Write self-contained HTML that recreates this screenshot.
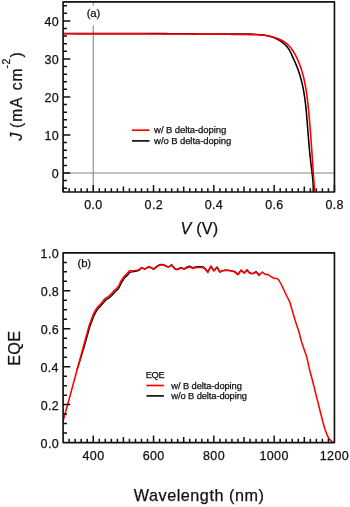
<!DOCTYPE html>
<html><head><meta charset="utf-8"><style>
html,body{margin:0;padding:0;background:#fff;width:350px;height:507px;overflow:hidden}
svg{display:block;will-change:transform}
text{font-family:"Liberation Sans", sans-serif;fill:#111;stroke:#111;stroke-width:0.25px}
</style></head><body>
<svg width="350" height="507" viewBox="0 0 350 507">
<line x1="63.1" y1="172.99" x2="334.45" y2="172.99" stroke="#868686" stroke-width="1.1"/>
<line x1="93.25" y1="1.9" x2="93.25" y2="192.0" stroke="#868686" stroke-width="1.1"/>
<path d="M63.96,33.5 L65.69,33.51 L67.42,33.52 L69.14,33.53 L70.87,33.54 L72.6,33.55 L74.32,33.56 L76.05,33.57 L77.77,33.57 L79.5,33.58 L81.22,33.58 L82.94,33.58 L84.66,33.59 L86.38,33.59 L88.1,33.59 L89.82,33.59 L91.54,33.59 L93.25,33.59 L94.97,33.58 L96.69,33.58 L98.4,33.58 L100.12,33.58 L101.83,33.57 L103.54,33.57 L105.26,33.56 L106.97,33.56 L108.68,33.55 L110.39,33.55 L112.11,33.55 L113.82,33.54 L115.53,33.54 L117.24,33.53 L118.95,33.53 L120.66,33.52 L122.37,33.52 L124.07,33.51 L125.78,33.51 L127.49,33.51 L129.2,33.51 L130.91,33.5 L132.62,33.5 L134.32,33.5 L136.03,33.5 L137.74,33.5 L139.45,33.5 L141.15,33.5 L142.86,33.51 L144.57,33.51 L146.28,33.51 L147.98,33.52 L149.69,33.53 L151.4,33.53 L153.1,33.54 L154.81,33.55 L156.52,33.56 L158.23,33.57 L159.94,33.59 L161.65,33.6 L163.35,33.61 L165.06,33.63 L166.77,33.64 L168.48,33.66 L170.19,33.67 L171.9,33.69 L173.61,33.7 L175.32,33.72 L177.03,33.74 L178.75,33.75 L180.46,33.77 L182.17,33.79 L183.88,33.8 L185.6,33.82 L187.31,33.83 L189.03,33.85 L190.74,33.87 L192.46,33.88 L194.17,33.89 L195.89,33.91 L197.61,33.92 L199.33,33.93 L201.05,33.95 L202.77,33.96 L204.49,33.97 L206.21,33.98 L207.93,33.98 L209.65,33.99 L211.38,34 L213.1,34 L214.83,34.01 L216.55,34.01 L218.28,34.01 L220.01,34.01 L221.74,34.01 L223.47,34 L225.2,34 L226.93,33.99 L228.67,33.98 L230.4,33.97 L232.14,33.96 L233.87,33.95 L235.61,33.93 L237.35,33.93 L239.08,33.92 L240.81,33.92 L242.54,33.93 L244.27,33.95 L246,33.97 L247.72,34.01 L249.44,34.06 L251.15,34.12 L252.86,34.19 L254.56,34.29 L256.26,34.4 L257.95,34.53 L259.63,34.68 L261.3,34.86 L262.97,35.06 L264.63,35.29 L266.27,35.57 L267.91,35.9 L269.54,36.29 L271.16,36.74 L272.77,37.26 L274.36,37.86 L275.94,38.55 L277.51,39.32 L279.04,40.17 L280.53,41.1 L281.97,42.11 L283.35,43.18 L284.66,44.32 L285.89,45.52 L287.03,46.78 L288.07,48.09 L288.99,49.45 L289.83,50.86 L290.59,52.3 L291.3,53.79 L291.98,55.31 L292.66,56.86 L293.36,58.43 L294.07,60.03 L294.78,61.64 L295.49,63.26 L296.19,64.9 L296.85,66.54 L297.49,68.18 L298.1,69.83 L298.68,71.48 L299.24,73.13 L299.76,74.79 L300.26,76.44 L300.73,78.1 L301.18,79.76 L301.61,81.43 L302.01,83.09 L302.39,84.76 L302.75,86.43 L303.09,88.1 L303.42,89.78 L303.72,91.46 L304.01,93.13 L304.28,94.81 L304.54,96.5 L304.78,98.18 L305.01,99.87 L305.22,101.55 L305.43,103.24 L305.62,104.93 L305.81,106.63 L305.98,108.32 L306.15,110.01 L306.31,111.71 L306.47,113.41 L306.62,115.11 L306.76,116.81 L306.9,118.51 L307.04,120.21 L307.18,121.92 L307.32,123.62 L307.45,125.32 L307.59,127.03 L307.72,128.74 L307.85,130.45 L307.98,132.15 L308.12,133.86 L308.25,135.57 L308.39,137.28 L308.52,138.99 L308.66,140.71 L308.81,142.42 L308.95,144.13 L309.1,145.84 L309.25,147.55 L309.41,149.27 L309.57,150.98 L309.73,152.69 L309.9,154.41 L310.08,156.12 L310.26,157.83 L310.45,159.54 L310.64,161.26 L310.85,162.97 L311.06,164.68 L311.27,166.39 L311.49,168.1 L311.71,169.81 L311.92,171.52 L312.13,173.23 L312.33,174.94 L312.51,176.65 L312.68,178.36 L312.84,180.06 L312.97,181.77 L313.08,183.48 L313.17,185.18 L313.22,186.88 L313.25,188.58 L313.24,190.29 L313.19,191.98" fill="none" stroke="#000" stroke-width="1.55" stroke-linejoin="round"/>
<path d="M64.05,33.78 L65.76,33.79 L67.48,33.8 L69.2,33.81 L70.91,33.81 L72.63,33.82 L74.35,33.83 L76.07,33.83 L77.79,33.84 L79.51,33.85 L81.23,33.85 L82.95,33.86 L84.67,33.86 L86.39,33.87 L88.11,33.87 L89.84,33.87 L91.56,33.88 L93.28,33.88 L95.01,33.89 L96.73,33.89 L98.45,33.89 L100.18,33.89 L101.9,33.9 L103.63,33.9 L105.36,33.9 L107.08,33.9 L108.81,33.9 L110.54,33.91 L112.26,33.91 L113.99,33.91 L115.72,33.91 L117.45,33.91 L119.17,33.91 L120.9,33.91 L122.63,33.91 L124.36,33.91 L126.09,33.91 L127.82,33.92 L129.55,33.92 L131.28,33.92 L133.01,33.92 L134.74,33.92 L136.47,33.92 L138.2,33.92 L139.93,33.92 L141.66,33.92 L143.39,33.92 L145.12,33.92 L146.85,33.93 L148.58,33.93 L150.31,33.93 L152.04,33.93 L153.78,33.93 L155.51,33.93 L157.24,33.94 L158.97,33.94 L160.7,33.94 L162.43,33.94 L164.16,33.95 L165.89,33.95 L167.63,33.95 L169.36,33.96 L171.09,33.96 L172.82,33.96 L174.55,33.97 L176.28,33.97 L178.01,33.98 L179.74,33.98 L181.47,33.99 L183.2,33.99 L184.93,34 L186.66,34.01 L188.39,34.01 L190.12,34.02 L191.85,34.03 L193.58,34.04 L195.31,34.05 L197.04,34.06 L198.77,34.07 L200.5,34.08 L202.23,34.09 L203.96,34.1 L205.68,34.11 L207.41,34.12 L209.14,34.13 L210.87,34.15 L212.59,34.16 L214.32,34.17 L216.05,34.19 L217.77,34.2 L219.5,34.22 L221.22,34.23 L222.95,34.25 L224.67,34.27 L226.4,34.29 L228.12,34.31 L229.85,34.32 L231.57,34.34 L233.29,34.37 L235.02,34.39 L236.74,34.41 L238.46,34.43 L240.18,34.46 L241.9,34.48 L243.62,34.5 L245.34,34.53 L247.06,34.56 L248.78,34.58 L250.5,34.61 L252.21,34.64 L253.93,34.68 L255.65,34.73 L257.36,34.79 L259.08,34.88 L260.8,34.99 L262.51,35.14 L264.22,35.31 L265.94,35.53 L267.65,35.8 L269.36,36.11 L271.07,36.48 L272.78,36.9 L274.47,37.39 L276.15,37.93 L277.79,38.54 L279.41,39.22 L280.98,39.97 L282.51,40.79 L283.98,41.68 L285.38,42.64 L286.72,43.68 L287.98,44.8 L289.17,46 L290.29,47.26 L291.35,48.58 L292.35,49.96 L293.29,51.38 L294.18,52.84 L295.02,54.34 L295.82,55.86 L296.59,57.4 L297.32,58.96 L298.02,60.53 L298.69,62.11 L299.32,63.7 L299.93,65.31 L300.51,66.92 L301.06,68.55 L301.59,70.18 L302.09,71.83 L302.56,73.48 L303.02,75.15 L303.45,76.82 L303.85,78.5 L304.24,80.18 L304.6,81.87 L304.95,83.57 L305.28,85.27 L305.59,86.98 L305.89,88.7 L306.17,90.41 L306.43,92.13 L306.68,93.86 L306.92,95.59 L307.15,97.32 L307.36,99.05 L307.57,100.78 L307.77,102.51 L307.96,104.25 L308.14,105.98 L308.31,107.71 L308.49,109.45 L308.65,111.18 L308.81,112.91 L308.97,114.63 L309.13,116.36 L309.28,118.08 L309.44,119.8 L309.58,121.52 L309.73,123.24 L309.87,124.96 L310.01,126.67 L310.15,128.39 L310.29,130.1 L310.42,131.82 L310.55,133.53 L310.68,135.24 L310.81,136.95 L310.94,138.66 L311.06,140.37 L311.19,142.08 L311.31,143.79 L311.43,145.5 L311.55,147.21 L311.67,148.92 L311.79,150.63 L311.91,152.34 L312.03,154.06 L312.14,155.77 L312.26,157.48 L312.38,159.19 L312.49,160.91 L312.61,162.62 L312.73,164.34 L312.84,166.06 L312.96,167.78 L313.08,169.5 L313.2,171.22 L313.31,172.95 L313.43,174.67 L313.55,176.4 L313.68,178.13 L313.8,179.86 L313.92,181.6 L314.05,183.33 L314.18,185.07 L314.3,186.82 L314.43,188.56 L314.57,190.31 L314.7,192.06" fill="none" stroke="#f00" stroke-width="1.6" stroke-linejoin="round"/>
<rect x="84" y="5.6" width="19" height="19.8" fill="#fff"/>
<text x="86.69" y="17.2" font-size="11.4" letter-spacing="-0.109">(a)</text>
<line x1="132" y1="130.2" x2="149.5" y2="130.2" stroke="#f00" stroke-width="1.7"/>
<line x1="132" y1="140.9" x2="149.5" y2="140.9" stroke="#111" stroke-width="1.7"/>
<text x="154.11" y="133.2" font-size="9.5" letter-spacing="-0.082">w/ B delta-doping</text>
<text x="154.11" y="143.9" font-size="9.5" letter-spacing="-0.088">w/o B delta-doping</text>
<path d="M63.1,1.9 H334.45 V192.0 H63.1 Z" fill="none" stroke="#111" stroke-width="1.65" stroke-linejoin="round"/>
<path d="M63.1,188.2h3.9 M63.1,180.59h3.9 M63.1,172.99h7.2 M63.1,165.39h3.9 M63.1,157.78h3.9 M63.1,150.18h3.9 M63.1,142.57h3.9 M63.1,134.97h7.2 M63.1,127.37h3.9 M63.1,119.76h3.9 M63.1,112.16h3.9 M63.1,104.55h3.9 M63.1,96.95h7.2 M63.1,89.35h3.9 M63.1,81.74h3.9 M63.1,74.14h3.9 M63.1,66.53h3.9 M63.1,58.93h7.2 M63.1,51.33h3.9 M63.1,43.72h3.9 M63.1,36.12h3.9 M63.1,28.51h3.9 M63.1,20.91h7.2 M63.1,13.31h3.9 M63.1,5.7h3.9 M63.1,192.0v-5.6 M69.13,192.0v-3.8 M75.16,192.0v-3.8 M81.19,192.0v-3.8 M87.22,192.0v-3.8 M93.25,192.0v-7.0 M99.28,192.0v-3.8 M105.31,192.0v-3.8 M111.34,192.0v-3.8 M117.37,192.0v-3.8 M123.4,192.0v-5.6 M129.43,192.0v-3.8 M135.46,192.0v-3.8 M141.49,192.0v-3.8 M147.52,192.0v-3.8 M153.55,192.0v-7.0 M159.58,192.0v-3.8 M165.61,192.0v-3.8 M171.64,192.0v-3.8 M177.67,192.0v-3.8 M183.7,192.0v-5.6 M189.73,192.0v-3.8 M195.76,192.0v-3.8 M201.79,192.0v-3.8 M207.82,192.0v-3.8 M213.85,192.0v-7.0 M219.88,192.0v-3.8 M225.91,192.0v-3.8 M231.94,192.0v-3.8 M237.97,192.0v-3.8 M244,192.0v-5.6 M250.03,192.0v-3.8 M256.06,192.0v-3.8 M262.09,192.0v-3.8 M268.12,192.0v-3.8 M274.15,192.0v-7.0 M280.18,192.0v-3.8 M286.21,192.0v-3.8 M292.24,192.0v-3.8 M298.27,192.0v-3.8 M304.3,192.0v-5.6 M310.33,192.0v-3.8 M316.36,192.0v-3.8 M322.39,192.0v-3.8 M328.42,192.0v-3.8 M334.45,192.0v-7.0" stroke="#111" stroke-width="1.5" fill="none"/>
<text x="51.74" y="177.94" font-size="12.5" letter-spacing="0.35">0</text>
<text x="44.43" y="139.92" font-size="12.5" letter-spacing="0.35">10</text>
<text x="44.43" y="101.9" font-size="12.5" letter-spacing="0.35">20</text>
<text x="44.43" y="63.88" font-size="12.5" letter-spacing="0.35">30</text>
<text x="44.43" y="25.86" font-size="12.5" letter-spacing="0.35">40</text>
<text x="84.21" y="208.7" font-size="12.5" letter-spacing="0.35">0.0</text>
<text x="144.58" y="208.7" font-size="12.5" letter-spacing="0.35">0.2</text>
<text x="204.75" y="208.7" font-size="12.5" letter-spacing="0.35">0.4</text>
<text x="265.14" y="208.7" font-size="12.5" letter-spacing="0.35">0.6</text>
<text x="325.44" y="208.7" font-size="12.5" letter-spacing="0.35">0.8</text>
<text x="180.5" y="233.8" font-size="16.2" letter-spacing="0.176"><tspan font-style="italic">V</tspan> (V)</text>
<text transform="translate(22.2,141.1) rotate(-90)" x="0.54" y="0" font-size="15.6" font-style="italic">J</text>
<text transform="translate(22.2,141.1) rotate(-90)" x="13.13" y="0" font-size="15.6" letter-spacing="1">(mA</text>
<text transform="translate(22.2,141.1) rotate(-90)" x="50.94" y="0" font-size="15.6" letter-spacing="0.9">cm</text>
<text transform="translate(22.2,141.1) rotate(-90)" x="72.64" y="-12.5" font-size="10.4" letter-spacing="0.6">-2</text>
<text transform="translate(22.2,141.1) rotate(-90)" x="83.71" y="0" font-size="15.6">)</text>
<path d="M77.1,369.8 L84.5,345.67 L89.8,326.8 L92,320.8 L93.7,316.3 L96,311.7 L98.9,307.7 L101.2,305.4 L104,302 L106.3,299.5 L108.6,298.3 L110.9,296.3 L113.2,294 L115.1,291.7 L117.4,289.7 L118.9,287.9 L120,285.8 L121.6,282.4 L123.6,279.4 L125.6,276.9 L128.1,274.4 L130.05,272.08 L132.46,271.87 L135.35,271.32 L138.73,270.54 L140.18,269.41 L141.62,267.79 L143.07,268.36 L144.71,269.02 L147,267.8" fill="none" stroke="#000" stroke-width="1.4" stroke-linejoin="round"/>
<path d="M147,267.4 L149.5,266.8 L151.5,267.6 L153.5,269.1 L155.5,267.4 L157.5,265.9 L159.5,264.8 L162,264.4 L164,264.9 L166,265.8 L168.5,266.8 L170.2,265.8 L171.7,264.8 L173.5,267.1 L175.2,268.8 L177.2,269.4 L179.2,268.4 L180.8,267.4 L182.5,268.1 L184,268.8 L186.5,267.25 L189.5,266.25 L191.5,267.05 L193,267.75 L195,267.05 L198,266.75 L201,266.75 L203.5,267.05 L205.5,268.75 L207.8,272.1 L209.5,268.6 L211,266.1 L212.5,268.6 L214,270.6 L215.5,268.6 L217.2,267.1 L218.5,269.6 L220,271.8 L222,270.6 L225,270.1 L228,270.1 L231,270.6 L234.5,271.4 L236.5,273.1 L238,274.4 L239.5,272.1 L241,270.1 L243,271.8 L244.5,272.6 L247,269.8 L249.3,272.4 L251.5,273.4 L253.5,273.1 L256,271.6 L257.5,273.1 L259,275.1 L260.5,273.4" fill="none" stroke="#111" stroke-width="1.4" stroke-linejoin="round"/>
<path d="M63.2,420.6 L70,396 L77.1,369.8 L84,344.5 L89.2,325.4 L91.4,319.4 L93.1,314.9 L95.4,310.3 L98.3,306.3 L100.6,304 L103.4,300.6 L105.7,298.1 L108,296.9 L110.3,294.9 L112.6,292.6 L114.5,290.3 L116.8,288.3 L118.3,286.5 L119.4,284.4 L121,281 L123,278 L125,275.5 L127.5,273 L129.5,270.8 L132,270.8 L135,270.5 L138.5,270 L140,269 L141.5,267.5 L143,268.2 L144.7,269 L147,267.8 L149.5,267.2 L151.5,268 L153.5,269.5 L155.5,267.8 L157.5,266.3 L159.5,265.2 L162,264.8 L164,265.3 L166,266.2 L168.5,267.2 L170.2,266.2 L171.7,265.2 L173.5,267.5 L175.2,269.2 L177.2,269.8 L179.2,268.8 L180.8,267.8 L182.5,268.5 L184,269.2 L186.5,268 L189.5,267 L191.5,267.8 L193,268.5 L195,267.8 L198,267.5 L201,267.5 L203.5,267.8 L205.5,269.5 L207.8,272.5 L209.5,269 L211,266.5 L212.5,269 L214,271 L215.5,269 L217.2,267.5 L218.5,270 L220,272.2 L222,271 L225,270.5 L228,270.5 L231,271 L234.5,271.8 L236.5,273.5 L238,274.8 L239.5,272.5 L241,270.5 L243,272.2 L244.5,273 L247,270.2 L249.3,272.8 L251.5,273.8 L253.5,273.5 L256,272 L257.5,273.5 L259,275.5 L260.5,273.8 L262.5,272 L264,273.5 L265.8,274.6 L267.7,274.3 L269.9,275.8 L272.6,277.6 L274.8,278.4 L277.3,278.4 L279.1,280.5 L281.3,284.5 L283.4,288.8 L285.6,293.7 L287.8,298 L289.7,301.8 L291,306.2 L292.6,311.6 L294,316.5 L295.3,320.9 L297.7,328 L299.2,332.8 L300.7,338.7 L302.4,344.6 L304.5,350.5 L306.6,356.5 L308,362.4 L309.2,368.3 L310.3,372.5 L311.7,377.5 L314,386.5 L316.2,395.5 L318.5,404.5 L320.7,413.5 L323,422.5 L325.2,430 L327.5,436 L329.7,439.7 L332,441.7 L333.8,442.3" fill="none" stroke="#f00" stroke-width="1.55" stroke-linejoin="round"/>
<text x="77.59" y="266.5" font-size="11.4" letter-spacing="-0.209">(b)</text>
<text x="145.64" y="377.7" font-size="9.3" letter-spacing="-0.339">EQE</text>
<line x1="146.4" y1="385.5" x2="163.9" y2="385.5" stroke="#f00" stroke-width="1.7"/>
<line x1="146.4" y1="395.9" x2="163.9" y2="395.9" stroke="#111" stroke-width="1.7"/>
<text x="171.31" y="388.5" font-size="9.4" letter-spacing="-0.115">w/ B delta-doping</text>
<text x="171.31" y="399" font-size="9.4" letter-spacing="-0.116">w/o B delta-doping</text>
<path d="M63.1,252.9 H334.45 V442.55 H63.1 Z" fill="none" stroke="#111" stroke-width="1.65" stroke-linejoin="round"/>
<path d="M63.1,433.07h3.9 M63.1,423.59h3.9 M63.1,414.1h3.9 M63.1,404.62h7.2 M63.1,395.14h3.9 M63.1,385.65h3.9 M63.1,376.17h3.9 M63.1,366.69h7.2 M63.1,357.21h3.9 M63.1,347.73h3.9 M63.1,338.24h3.9 M63.1,328.76h7.2 M63.1,319.28h3.9 M63.1,309.8h3.9 M63.1,300.31h3.9 M63.1,290.83h7.2 M63.1,281.35h3.9 M63.1,271.87h3.9 M63.1,262.38h3.9 M69.13,442.55v-3.8 M75.16,442.55v-3.8 M81.19,442.55v-3.8 M87.22,442.55v-3.8 M93.25,442.55v-7.0 M99.28,442.55v-3.8 M105.31,442.55v-3.8 M111.34,442.55v-3.8 M117.37,442.55v-3.8 M123.4,442.55v-5.6 M129.43,442.55v-3.8 M135.46,442.55v-3.8 M141.49,442.55v-3.8 M147.52,442.55v-3.8 M153.55,442.55v-7.0 M159.58,442.55v-3.8 M165.61,442.55v-3.8 M171.64,442.55v-3.8 M177.67,442.55v-3.8 M183.7,442.55v-5.6 M189.73,442.55v-3.8 M195.76,442.55v-3.8 M201.79,442.55v-3.8 M207.82,442.55v-3.8 M213.85,442.55v-7.0 M219.88,442.55v-3.8 M225.91,442.55v-3.8 M231.94,442.55v-3.8 M237.97,442.55v-3.8 M244,442.55v-5.6 M250.03,442.55v-3.8 M256.06,442.55v-3.8 M262.09,442.55v-3.8 M268.12,442.55v-3.8 M274.15,442.55v-7.0 M280.18,442.55v-3.8 M286.21,442.55v-3.8 M292.24,442.55v-3.8 M298.27,442.55v-3.8 M304.3,442.55v-5.6 M310.33,442.55v-3.8 M316.36,442.55v-3.8 M322.39,442.55v-3.8 M328.42,442.55v-3.8" stroke="#111" stroke-width="1.5" fill="none"/>
<text x="40.61" y="447.5" font-size="12.5" letter-spacing="0.35">0.0</text>
<text x="40.75" y="409.57" font-size="12.5" letter-spacing="0.35">0.2</text>
<text x="40.49" y="371.64" font-size="12.5" letter-spacing="0.35">0.4</text>
<text x="40.67" y="333.71" font-size="12.5" letter-spacing="0.35">0.6</text>
<text x="40.67" y="295.78" font-size="12.5" letter-spacing="0.35">0.8</text>
<text x="40.61" y="257.85" font-size="12.5" letter-spacing="0.35">1.0</text>
<text x="82.57" y="459.6" font-size="12.5" letter-spacing="0.35">400</text>
<text x="142.7" y="459.6" font-size="12.5" letter-spacing="0.35">600</text>
<text x="203.04" y="459.6" font-size="12.5" letter-spacing="0.35">800</text>
<text x="259.49" y="459.6" font-size="12.5" letter-spacing="0.35">1000</text>
<text x="319.79" y="459.6" font-size="12.5" letter-spacing="0.35">1200</text>
<text x="133.83" y="501.3" font-size="16.2" letter-spacing="0.524">Wavelength (nm)</text>
<text transform="translate(19.6,365.73) rotate(-90)" x="0" y="0" font-size="16.2" letter-spacing="0.26">EQE</text>
</svg>
</body></html>
